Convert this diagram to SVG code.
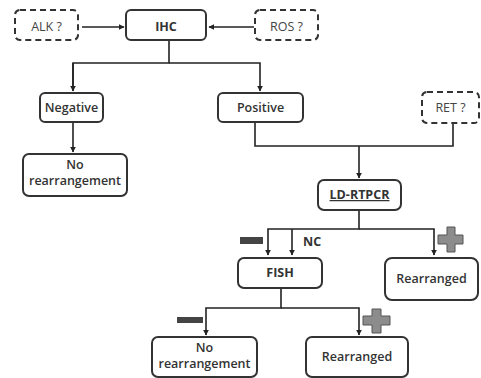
<svg xmlns="http://www.w3.org/2000/svg" width="481" height="378" viewBox="0 0 481 378">
<style>
.box{fill:#fff;stroke:#333;stroke-width:2}
.dash{fill:#fff;stroke:#333;stroke-width:2;stroke-dasharray:6,4}
.t{font-family:"Open Sans","Liberation Sans",sans-serif;font-size:12.5px;font-weight:600;fill:#333;text-anchor:middle}
.r{font-weight:400;fill:#444}
.b{font-weight:700}
.ln{fill:none;stroke:#222;stroke-width:1.6}
.plus{fill:#8c8c8c;stroke:#555;stroke-width:1}
.minus{fill:#444}
</style>
<defs>
<marker id="ah" viewBox="0 0 10 10" refX="9" refY="5" markerWidth="6" markerHeight="6" orient="auto" markerUnits="userSpaceOnUse">
<path d="M0,0 L10,5 L0,10 z" fill="#222"/>
</marker>
</defs>
<rect width="481" height="378" fill="#fff"/>
<g id="connectors">
<path class="ln" d="M82,27 H124" marker-end="url(#ah)"/>
<path class="ln" d="M254,27 H209" marker-end="url(#ah)"/>
<path class="ln" d="M169,41 V63 H73 V91"/>
<path class="ln" d="M73,63 V91" marker-end="url(#ah)"/>
<path class="ln" d="M169,63 H260 V91" marker-end="url(#ah)"/>
<path class="ln" d="M73,123 V152" marker-end="url(#ah)"/>
<path class="ln" d="M255,123 V146 H453 V124"/>
<path class="ln" d="M359,146 V178" marker-end="url(#ah)"/>
<path class="ln" d="M359,211 V229 H268 V255" marker-end="url(#ah)"/>
<path class="ln" d="M292,229 V255" marker-end="url(#ah)"/>
<path class="ln" d="M359,229 H434 V255" marker-end="url(#ah)"/>
<path class="ln" d="M281,289 V308 H206 V335" marker-end="url(#ah)"/>
<path class="ln" d="M281,308 H359 V335" marker-end="url(#ah)"/>
</g>
<g id="alk"><rect class="dash" x="15" y="10" width="63" height="30" rx="5"/><text class="t r" x="46.5" y="31">ALK ?</text></g>
<g id="ihc"><rect class="box" x="126" y="10" width="80" height="30" rx="5"/><text class="t b" x="166" y="31">IHC</text></g>
<g id="ros"><rect class="dash" x="255" y="10" width="63" height="30" rx="5"/><text class="t r" x="286.5" y="31">ROS ?</text></g>
<g id="negative"><rect class="box" x="40" y="93" width="63" height="29" rx="5"/><text class="t" x="71.5" y="112">Negative</text></g>
<g id="positive"><rect class="box" x="218" y="93" width="85" height="29" rx="5"/><text class="t" x="260.5" y="112">Positive</text></g>
<g id="ret"><rect class="dash" x="422" y="92" width="57" height="31" rx="5"/><text class="t r" x="450.5" y="112">RET ?</text></g>
<g id="norearr1"><rect class="box" x="23" y="154" width="104" height="42" rx="6"/><text class="t" x="75" y="169">No</text><text class="t" x="75" y="185">rearrangement</text></g>
<g id="ldrtpcr"><rect class="box" x="318" y="180" width="83" height="30" rx="6"/><text class="t b" x="359.5" y="199" text-decoration="underline">LD-RTPCR</text></g>
<g id="fish"><rect class="box" x="238" y="258" width="84" height="30" rx="6"/><text class="t b" x="280" y="277">FISH</text></g>
<g id="nc"><text class="t b" x="303" y="246" style="text-anchor:start">NC</text></g>
<g id="rearr1"><rect class="box" x="385" y="258" width="93" height="42" rx="7"/><text class="t" x="431.5" y="283">Rearranged</text></g>
<g id="norearr2"><rect class="box" x="152" y="337" width="105" height="40" rx="6"/><text class="t" x="204.5" y="352">No</text><text class="t" x="204.5" y="368">rearrangement</text></g>
<g id="rearr2"><rect class="box" x="306" y="337" width="102" height="40" rx="6"/><text class="t" x="357" y="361">Rearranged</text></g>
<g id="signs">
<rect class="minus" x="240" y="237" width="23" height="7"/>
<rect class="minus" x="177" y="317" width="26" height="6"/>
<path class="plus" d="M447,227 H455 V235 H463 V244 H455 V252 H447 V244 H438 V235 H447 Z"/>
<path class="plus" d="M372,309 H381 V316 H390 V325 H381 V333 H372 V325 H363 V316 H372 Z"/>
</g>
</svg>
